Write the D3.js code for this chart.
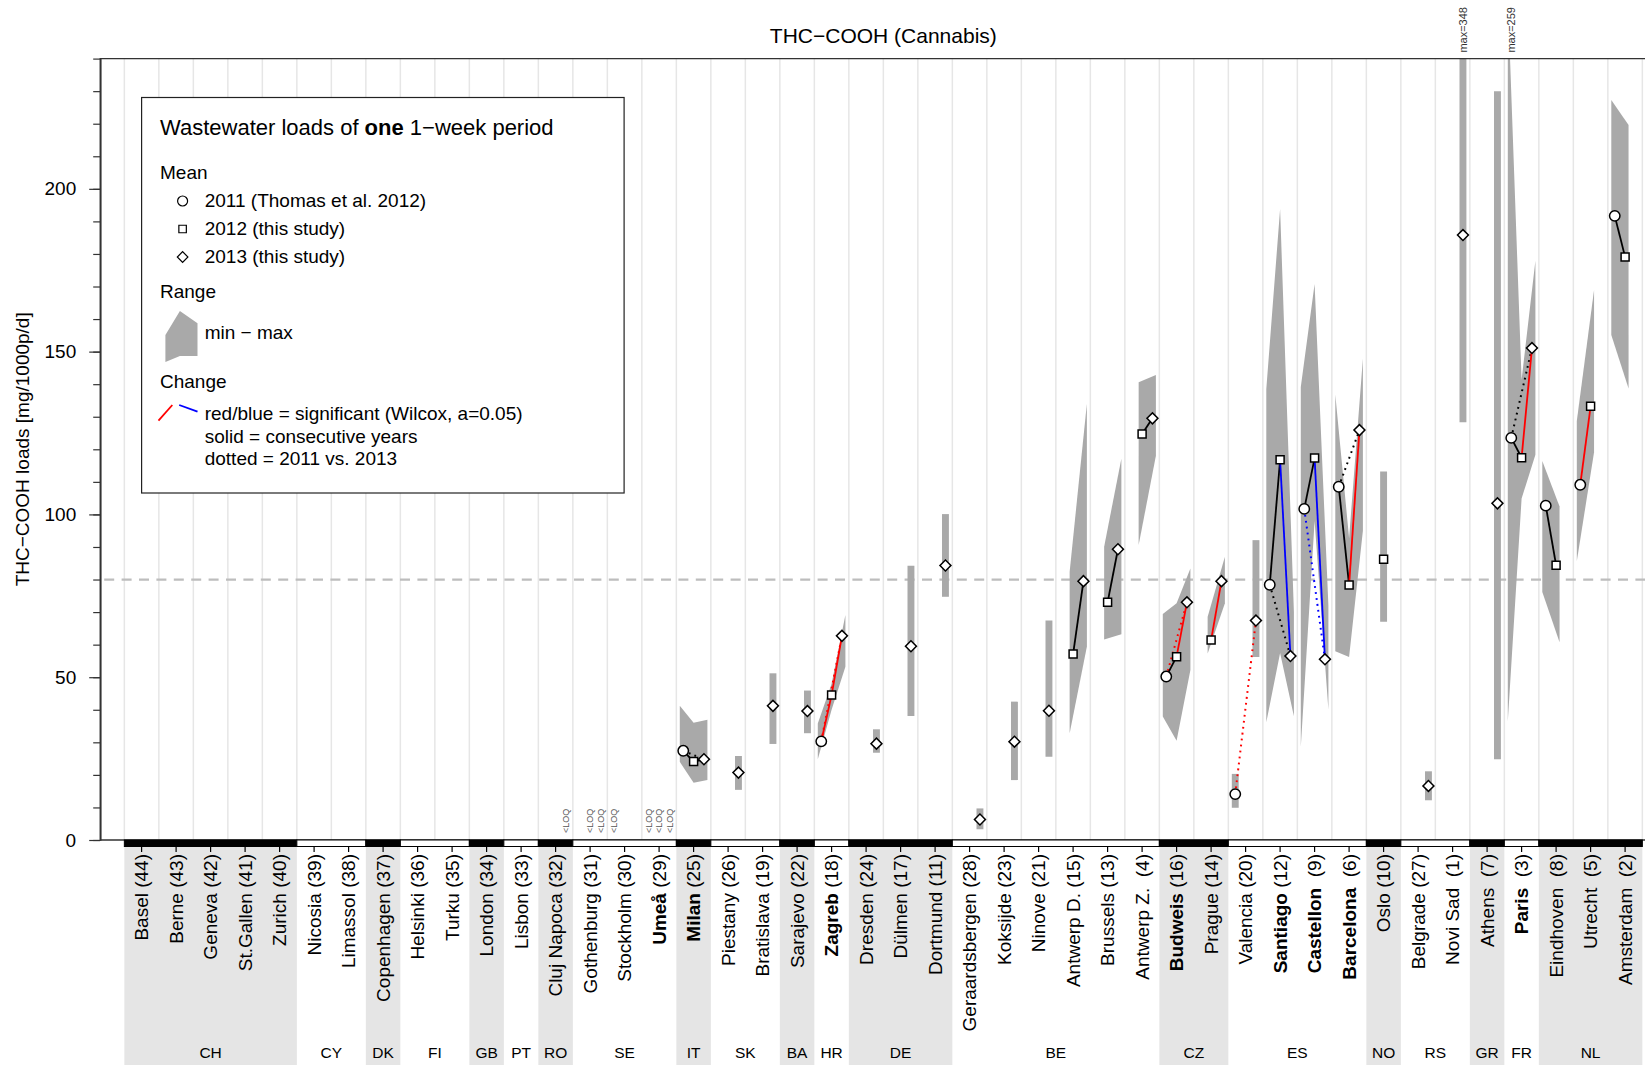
<!DOCTYPE html>
<html>
<head>
<meta charset="utf-8">
<script src="https://cdn.jsdelivr.net/npm/d3@7"></script>
<style>
body { margin: 0; background: #fff; }
svg text { font-family: "Liberation Sans", Arial, Helvetica, sans-serif; }
</style>
</head>
<body>
<svg id="chart" width="1645" height="1065"></svg>
<script>
const _ = null;

// cities from left to right, with their id and country
const cities = ["Basel", "Berne", "Geneva", "St.Gallen", "Zurich", "Nicosia", "Limassol", "Copenhagen",
    "Helsinki", "Turku", "London", "Lisbon", "Cluj Napoca", "Gothenburg", "Stockholm", "Umeå",
    "Milan", "Piestany", "Bratislava", "Sarajevo", "Zagreb", "Dresden", "Dülmen", "Dortmund",
    "Geraardsbergen", "Koksijde", "Ninove", "Antwerp D.", "Brussels", "Antwerp Z.", "Budweis", "Prague",
    "Valencia", "Santiago", "Castellon", "Barcelona", "Oslo", "Belgrade", "Novi Sad", "Athens",
    "Paris", "Eindhoven", "Utrecht", "Amsterdam"];
const cityIds = [44, 43, 42, 41, 40, 39, 38, 37, 36, 35, 34, 33, 32, 31, 30, 29,
    25, 26, 19, 22, 18, 24, 17, 11, 28, 23, 21, 15, 13, 4, 16, 14,
    20, 12, 9, 6, 10, 27, 1, 7, 3, 8, 5, 2];
const countries = ["CH", "CH", "CH", "CH", "CH", "CY", "CY", "DK", "FI", "FI", "GB", "PT", "RO", "SE", "SE", "SE",
    "IT", "SK", "SK", "BA", "HR", "DE", "DE", "DE", "BE", "BE", "BE", "BE", "BE", "BE", "CZ", "CZ",
    "ES", "ES", "ES", "ES", "NO", "RS", "RS", "GR", "FR", "NL", "NL", "NL"];
const boldCities = ["Umeå", "Milan", "Zagreb", "Budweis", "Santiago", "Castellon", "Barcelona", "Paris"];
const shadedCountries = ["CH", "DK", "GB", "RO", "IT", "BA", "DE", "CZ", "NO", "GR", "NL"];

// mean, min and max loads per year (mg/1000p/d)
const mean2011 = [_, _, _, _, _, _, _, _, _, _, _, _, _, _, _, _,
    27.4, _, _, _, 30.3, _, _, _, _, _, _, _, _, _, 50.2, _,
    14.1, 78.4, 101.7, 108.5, _, _, _, _, 123.5, 102.7, 109.1, 191.7];
const min2011 = [_, _, _, _, _, _, _, _, _, _, _, _, _, _, _, _,
    24.0, _, _, _, 24.8, _, _, _, _, _, _, _, _, _, 37.9, _,
    9.9, 36.2, 28.6, 58.0, _, _, _, _, 36.4, 76.2, 85.6, 155.1];
const max2011 = [_, _, _, _, _, _, _, _, _, _, _, _, _, _, _, _,
    41.2, _, _, _, 35.8, _, _, _, _, _, _, _, _, _, 69.4, _,
    20.3, 138.5, 139.1, 136.8, _, _, _, _, 259, 116.4, 128.7, 227.3];

const mean2012 = [_, _, _, _, _, _, _, _, _, _, _, _, _, _, _, _,
    24.1, _, _, _, 44.5, _, _, _, _, _, _, 57.1, 73.0, 124.7, 56.3, 61.4,
    _, 116.8, 117.3, 78.3, 86.2, _, _, _, 117.4, 84.4, 133.2, 179.1];
const min2012 = [_, _, _, _, _, _, _, _, _, _, _, _, _, _, _, _,
    17.6, _, _, _, 40.0, _, _, _, _, _, _, 32.8, 61.6, 90.6, 30.5, 57.3,
    _, 57.4, 98.0, 56.2, 67.0, _, _, _, 104.9, 60.7, 119.1, 138.7];
const max2012 = [_, _, _, _, _, _, _, _, _, _, _, _, _, _, _, _,
    36.0, _, _, _, 48.0, _, _, _, _, _, _, 82.4, 90.1, 140.6, 72.7, 68.6,
    _, 193.8, 170.8, 92.7, 113.2, _, _, _, 141.4, 102.4, 168.9, 219.6];

const mean2013 = [_, _, _, _, _, _, _, _, _, _, _, _, _, _, _, _,
    24.8, 20.7, 41.2, 39.6, 62.7, 29.6, 59.5, 84.3, 6.3, 30.2, 39.7, 79.5, 89.3, 129.5, 73.0, 79.5,
    67.4, 56.5, 55.5, 125.9, _, 16.6, 185.8, 103.4, 151.1, _, _, _];
const min2013 = [_, _, _, _, _, _, _, _, _, _, _, _, _, _, _, _,
    18.4, 15.4, 29.5, 32.8, 53.2, 26.8, 38.1, 74.7, 3.3, 18.4, 25.6, 59.4, 63.2, 118.0, 52.2, 72.7,
    56.2, 38.0, 40.0, 95.0, _, 12.2, 128.3, 24.8, 118.3, _, _, _];
const max2013 = [_, _, _, _, _, _, _, _, _, _, _, _, _, _, _, _,
    36.9, 25.8, 51.2, 45.9, 69.1, 34.0, 84.2, 100.1, 9.7, 42.5, 67.4, 134.1, 117.2, 142.8, 83.4, 87.0,
    92.1, 70.0, 72.0, 147.9, _, 21.1, 348, 230, 177.9, _, _, _];

// change between years: k = not significant, r = significant increase, b = significant decrease
const change1112 = [_, _, _, _, _, _, _, _, _, _, _, _, _, _, _, _,
    "k", _, _, _, "r", _, _, _, _, _, _, _, _, _, "k", _,
    _, "k", "k", "k", _, _, _, _, "k", "k", "r", "k"];
const change1213 = [_, _, _, _, _, _, _, _, _, _, _, _, _, _, _, _,
    "k", _, _, _, "r", _, _, _, _, _, _, "k", "k", "k", "r", "r",
    _, "b", "b", "r", _, _, _, _, "r", _, _, _];
const change1113 = [_, _, _, _, _, _, _, _, _, _, _, _, _, _, _, _,
    "k", _, _, _, "r", _, _, _, _, _, _, _, _, _, "r", _,
    "r", "k", "b", "k", _, _, _, _, "k", _, _, _];

// samples below limit of quantification
const loqCity = ["Cluj Napoca", "Gothenburg", "Gothenburg", "Stockholm", "Umeå", "Umeå", "Umeå"];
const loqYear = [2013, 2012, 2013, 2011, 2011, 2012, 2013];

const yTicks = [0, 50, 100, 150, 200];
const yMinorTicks = [0, 10, 20, 30, 40, 50, 60, 70, 80, 90, 100, 110, 120, 130, 140, 150, 160, 170, 180, 190, 200, 210, 220, 230, 240];
const referenceLine = 80;

const years = [2011, 2012, 2013];
const series = {
    2011: {mean: mean2011, min: min2011, max: max2011},
    2012: {mean: mean2012, min: min2012, max: max2012},
    2013: {mean: mean2013, min: min2013, max: max2013}
};
const offsets = {2011: -0.3, 2012: 0, 2013: 0.3};
const pad = 0.1;
const lineColor = {k: "#000000", r: "#ff0000", b: "#0000ff"};

const svg = d3.select("#chart");
const x = d3.scaleLinear().domain([-0.2, 45.2]).range([100.2, 1666.5]);
const y = d3.scaleLinear().domain([0, 240]).range([840, 58.6]);
const plotTop = y(240), plotBottom = y(0), plotLeft = x(-0.2), plotRight = x(45.2);

svg.append("defs").append("clipPath").attr("id", "clip")
    .append("rect")
    .attr("x", plotLeft).attr("y", plotTop)
    .attr("width", plotRight - plotLeft).attr("height", plotBottom - plotTop);

// country groups
var groups = [];
countries.forEach(function(c, i)
{
    var g = groups[groups.length - 1];
    if (g && g.code === c) g.end = i + 1;
    else groups.push({code: c, start: i + 1, end: i + 1});
});

// grey shading behind labels
svg.selectAll(".shade")
.data(groups.filter(function(g) { return shadedCountries.includes(g.code); }))
.enter().append("rect")
.attr("x", function(g) { return x(g.start - 0.5); })
.attr("y", plotBottom + 6.5)
.attr("width", function(g) { return x(g.end + 0.5) - x(g.start - 0.5); })
.attr("height", 1065 - plotBottom)
.attr("fill", "#e5e5e5");

// vertical grid
svg.selectAll(".grid")
.data(d3.range(0, 45))
.enter().append("line")
.attr("x1", function(k) { return x(k + 0.5); })
.attr("x2", function(k) { return x(k + 0.5); })
.attr("y1", plotTop).attr("y2", plotBottom)
.attr("stroke", "#e6e6e6")
.attr("stroke-width", 1.5);

// reference line
svg.append("line")
.attr("x1", plotLeft + 4).attr("x2", plotRight)
.attr("y1", y(referenceLine)).attr("y2", y(referenceLine))
.attr("stroke", "#bdbdbd")
.attr("stroke-width", 2.3)
.attr("stroke-dasharray", "10,7.4");

var plot = svg.append("g").attr("clip-path", "url(#clip)");
var area = d3.line().x(function(p) { return x(p[0]); }).y(function(p) { return y(p[1]); });

// min-max ranges
cities.forEach(function(c, i)
{
    var pos = i + 1;
    var runs = [];
    years.filter(function(yr) { return series[yr].min[i] !== null; })
    .forEach(function(yr)
    {
        var r = runs[runs.length - 1];
        if (r && yr - r[r.length - 1] === 1) r.push(yr);
        else runs.push([yr]);
    });
    runs.forEach(function(run)
    {
        var pts;
        if (run.length === 1)
        {
            var yr = run[0], xc = pos + offsets[yr];
            pts = [[xc - pad, series[yr].max[i]], [xc + pad, series[yr].max[i]],
                   [xc + pad, series[yr].min[i]], [xc - pad, series[yr].min[i]]];
        }
        else
        {
            var xs = run.map(function(yr, k)
            {
                return pos + offsets[yr] + (k === 0 ? -pad : (k === run.length - 1 ? pad : 0));
            });
            var upper = run.map(function(yr, k) { return [xs[k], series[yr].max[i]]; });
            var lower = run.map(function(yr, k) { return [xs[k], series[yr].min[i]]; }).reverse();
            pts = upper.concat(lower);
        }
        plot.append("path")
        .attr("d", area(pts) + "Z")
        .attr("fill", "#a9a9a9");
    });
});

// change lines
var pairs = [
    {a: 2011, b: 2013, change: change1113, dotted: true},
    {a: 2011, b: 2012, change: change1112, dotted: false},
    {a: 2012, b: 2013, change: change1213, dotted: false}
];
pairs.forEach(function(p)
{
    cities.forEach(function(c, i)
    {
        var col = p.change[i];
        if (!col) return;
        plot.append("line")
        .attr("x1", x(i + 1 + offsets[p.a])).attr("y1", y(series[p.a].mean[i]))
        .attr("x2", x(i + 1 + offsets[p.b])).attr("y2", y(series[p.b].mean[i]))
        .attr("stroke", lineColor[col])
        .attr("stroke-width", p.dotted ? 2 : 1.8)
        .attr("stroke-dasharray", p.dotted ? "1.8,4.2" : null);
    });
});

// mean symbols
var symbols = {
    2011: d3.symbol().type(d3.symbolCircle).size(Math.PI * 5.2 * 5.2),
    2012: d3.symbol().type(d3.symbolSquare).size(64),
    2013: d3.symbol().type(d3.symbolSquare).size(60)
};
years.forEach(function(yr)
{
    cities.forEach(function(c, i)
    {
        var v = series[yr].mean[i];
        if (v === null) return;
        plot.append("path")
        .attr("d", symbols[yr]())
        .attr("transform", "translate(" + x(i + 1 + offsets[yr]) + "," + y(v) + ")" + (yr === 2013 ? " rotate(45)" : ""))
        .attr("fill", "#fff")
        .attr("stroke", "#000")
        .attr("stroke-width", 1.5);
    });
});

// <LOQ notes
loqCity.forEach(function(c, k)
{
    var pos = cities.indexOf(c) + 1;
    svg.append("text")
    .attr("transform", "translate(" + x(pos + offsets[loqYear[k]]) + "," + (plotBottom - 7) + ") rotate(-90)")
    .attr("dy", "0.35em")
    .attr("font-size", 9)
    .attr("fill", "#555")
    .text("<LOQ");
});

// max notes for ranges above the plot
years.forEach(function(yr)
{
    cities.forEach(function(c, i)
    {
        var m = series[yr].max[i];
        if (m === null || m <= 240) return;
        svg.append("text")
        .attr("transform", "translate(" + x(i + 1 + offsets[yr]) + "," + (plotTop - 6) + ") rotate(-90)")
        .attr("dy", "0.35em")
        .attr("font-size", 11)
        .attr("fill", "#333")
        .text("max=" + m);
    });
});

// frame and axis
svg.append("path")
.attr("d", "M" + plotRight + "," + plotTop + "H" + plotLeft + "V" + plotBottom + "H" + plotRight)
.attr("fill", "none").attr("stroke", "#333").attr("stroke-width", 1.3);

var ax = svg.append("g").attr("transform", "translate(" + plotLeft + ",0)");
ax.append("g").call(d3.axisLeft(y).tickValues(yMinorTicks).tickSize(7).tickSizeOuter(0).tickFormat(""));
ax.append("g").call(d3.axisLeft(y).tickValues(yTicks).tickSize(11).tickSizeOuter(0).tickPadding(13));
ax.selectAll(".domain").attr("stroke", "#333").attr("stroke-width", 1.3);
ax.selectAll(".tick line").attr("stroke", "#333").attr("stroke-width", 1.2);
ax.selectAll("text").attr("font-size", 19).attr("fill", "#000")
    .attr("font-family", "Liberation Sans, Arial, sans-serif");

// country strip
svg.selectAll(".strip")
.data(groups)
.enter().append("rect")
.attr("x", function(g) { return x(g.start - 0.5); })
.attr("y", plotBottom)
.attr("width", function(g) { return x(g.end + 0.5) - x(g.start - 0.5); })
.attr("height", 6.5)
.attr("fill", function(g) { return shadedCountries.includes(g.code) ? "#000" : "#fff"; })
.attr("stroke", "#000")
.attr("stroke-width", 1);

svg.selectAll(".ctick")
.data(cities)
.enter().append("line")
.attr("x1", function(d, i) { return x(i + 1); })
.attr("x2", function(d, i) { return x(i + 1); })
.attr("y1", plotBottom + 6.5).attr("y2", plotBottom + 12)
.attr("stroke", "#000").attr("stroke-width", 1.2);

// city labels: name (bold for some) followed by id
var cityLabel = svg.selectAll(".city")
.data(cities)
.enter().append("text")
.attr("transform", function(d, i) { return "translate(" + x(i + 1) + "," + (plotBottom + 14) + ") rotate(-90)"; })
.attr("text-anchor", "end")
.attr("dy", "0.35em")
.attr("font-size", 19)
.attr("xml:space", "preserve")
.style("white-space", "pre");

cityLabel.append("tspan")
.style("font-weight", function(d) { return boldCities.includes(d) ? "bold" : "normal"; })
.text(function(d) { return d; });
cityLabel.append("tspan")
.text(function(d, i) { return (cityIds[i] < 10 ? "  (" : " (") + cityIds[i] + ")"; });

svg.selectAll(".country")
.data(groups)
.enter().append("text")
.attr("x", function(g) { return (x(g.start - 0.5) + x(g.end + 0.5)) / 2; })
.attr("y", 1052)
.attr("text-anchor", "middle")
.attr("dominant-baseline", "central")
.attr("font-size", 15.5)
.text(function(g) { return g.code; });

// titles
svg.append("text")
.attr("x", (plotLeft + plotRight) / 2).attr("y", 35)
.attr("text-anchor", "middle").attr("dominant-baseline", "central")
.attr("font-size", 21)
.text("THC−COOH (Cannabis)");

svg.append("text")
.attr("transform", "translate(22," + (plotTop + plotBottom) / 2 + ") rotate(-90)")
.attr("text-anchor", "middle").attr("dominant-baseline", "central")
.attr("font-size", 19)
.text("THC−COOH loads [mg/1000p/d]");

// legend
var lg = svg.append("g");
lg.append("rect")
.attr("x", 141.6).attr("y", 97.5).attr("width", 482.5).attr("height", 395.5)
.attr("fill", "#fff").attr("stroke", "#222").attr("stroke-width", 1.2);

var lt = lg.append("text").attr("x", 160).attr("y", 127).attr("dominant-baseline", "central").attr("font-size", 22);
lt.append("tspan").text("Wastewater loads of ");
lt.append("tspan").style("font-weight", "bold").text("one");
lt.append("tspan").text(" 1−week period");

var lgText = [
    {t: "Mean", x: 160, y: 172},
    {t: "2011 (Thomas et al. 2012)", x: 204.7, y: 200},
    {t: "2012 (this study)", x: 204.7, y: 228},
    {t: "2013 (this study)", x: 204.7, y: 256},
    {t: "Range", x: 160, y: 291},
    {t: "min − max", x: 204.7, y: 332},
    {t: "Change", x: 160, y: 381},
    {t: "red/blue = significant (Wilcox, a=0.05)", x: 204.7, y: 413},
    {t: "solid = consecutive years", x: 204.7, y: 436},
    {t: "dotted = 2011 vs. 2013", x: 204.7, y: 458}
];
lg.selectAll(".lt")
.data(lgText)
.enter().append("text")
.attr("x", function(d) { return d.x; })
.attr("y", function(d) { return d.y; })
.attr("dominant-baseline", "central")
.attr("font-size", 19)
.text(function(d) { return d.t; });

lg.append("path").attr("d", d3.symbol().type(d3.symbolCircle).size(Math.PI * 25)())
.attr("transform", "translate(182.6,201)").attr("fill", "#fff").attr("stroke", "#000").attr("stroke-width", 1.2);
lg.append("path").attr("d", d3.symbol().type(d3.symbolSquare).size(56)())
.attr("transform", "translate(182.6,229)").attr("fill", "#fff").attr("stroke", "#000").attr("stroke-width", 1.2);
lg.append("path").attr("d", d3.symbol().type(d3.symbolSquare).size(56)())
.attr("transform", "translate(182.6,257) rotate(45)").attr("fill", "#fff").attr("stroke", "#000").attr("stroke-width", 1.2);

lg.append("path")
.attr("d", "M165.4,335L179.9,311L197.5,323.3L197.5,356L179.9,356L165.4,362Z")
.attr("fill", "#a9a9a9");

lg.append("line").attr("x1", 158.5).attr("y1", 420.7).attr("x2", 172.3).attr("y2", 405)
.attr("stroke", "#ff0000").attr("stroke-width", 1.8);
lg.append("line").attr("x1", 179.2).attr("y1", 405).attr("x2", 197.5).attr("y2", 411.7)
.attr("stroke", "#0000ff").attr("stroke-width", 1.8);
</script>
</body>
</html>
